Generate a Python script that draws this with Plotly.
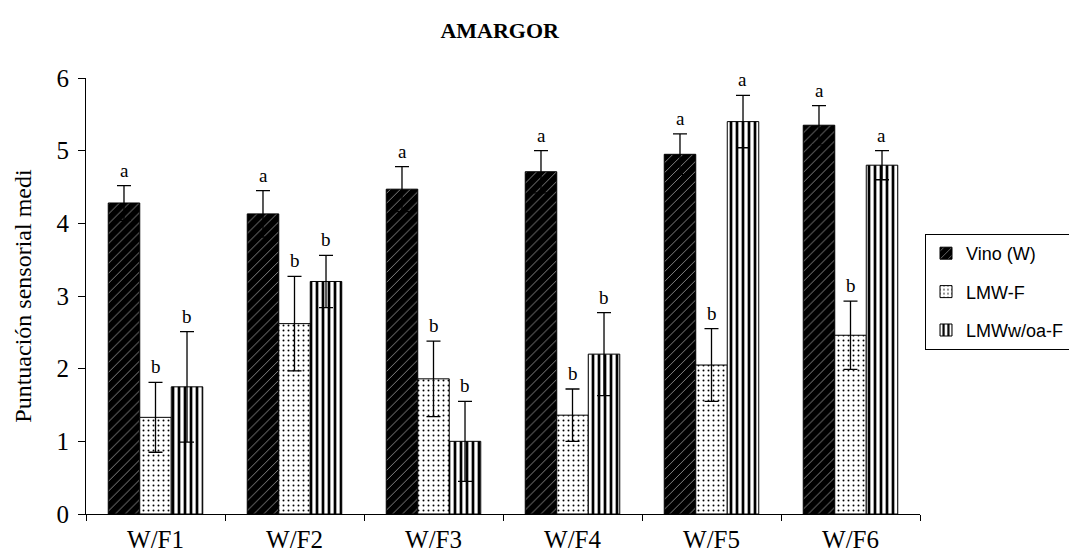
import plotly.graph_objects as go

categories = ["W/F1", "W/F2", "W/F3", "W/F4", "W/F5", "W/F6"]
series_names = ["Vino (W)", "LMW-F", "LMWw/oa-F"]
vino = [4.28, 4.13, 4.47, 4.71, 4.95, 5.35]
vino_err = [0.24, 0.32, 0.31, 0.29, 0.28, 0.27]
lmwf = [1.33, 2.62, 1.86, 1.36, 2.05, 2.46]
lmwf_err = [0.48, 0.65, 0.52, 0.36, 0.50, 0.47]
lmwoa = [1.75, 3.20, 1.00, 2.20, 5.40, 4.80]
lmwoa_err = [0.76, 0.36, 0.55, 0.57, 0.36, 0.20]
letters_vino = ["a", "a", "a", "a", "a", "a"]
letters_lmwf = ["b", "b", "b", "b", "b", "b"]
letters_lmwoa = ["b", "b", "b", "b", "a", "a"]

values = [vino, lmwf, lmwoa]
errors = [vino_err, lmwf_err, lmwoa_err]
letters = [letters_vino, letters_lmwf, letters_lmwoa]
patterns = [
    dict(shape="/", fgcolor="#9a9a9a", bgcolor="black", size=7, solidity=0.12, fillmode="replace"),
    dict(shape=".", fgcolor="black", bgcolor="white", size=5, solidity=0.12, fillmode="replace"),
    dict(shape="|", fgcolor="black", bgcolor="white", size=6, solidity=0.45, fillmode="replace"),
]
base_colors = ["black", "white", "white"]

fig = go.Figure()
for k, (name, v, e, pat, col) in enumerate(zip(series_names, values, errors, patterns, base_colors)):
    fig.add_trace(go.Bar(
        x=categories, y=v, name=name, legendgroup=f"g{k}",
        marker=dict(color=col, pattern=pat, line=dict(color="black", width=1)),
        error_y=dict(type="data", array=e, visible=True, color="black", thickness=1.3, width=7),
    ))

bar_px = 31
for j, (v, e, lt) in enumerate(zip(values, errors, letters)):
    for i, c in enumerate(categories):
        fig.add_annotation(
            x=c, y=v[i] + e[i], text=lt[i], showarrow=False,
            xref="x", yref="y", xshift=(j - 1) * bar_px, yshift=3, yanchor="bottom",
            font=dict(family="Liberation Serif", size=19, color="black"),
        )

fig.update_layout(
    width=1069, height=556,
    margin=dict(l=86, r=149, t=78, b=42, autoexpand=False),
    paper_bgcolor="white", plot_bgcolor="white",
    barmode="group", bargap=0.32, bargroupgap=0,
    title=dict(text="<b>AMARGOR</b>", x=0.496, xanchor="center", y=0.946, yanchor="middle",
               xref="paper",
               font=dict(family="Liberation Serif", size=22, color="black")),
    legend=dict(x=925 / 1069, xanchor="left", y=1 - 234 / 556, yanchor="top",
                xref="container", yref="container",
                bordercolor="black", borderwidth=1, bgcolor="white",
                font=dict(family="Liberation Sans", size=18, color="black"),
                itemwidth=30, tracegroupgap=12),
    showlegend=True,
)
fig.update_xaxes(
    showline=True, linecolor="black", linewidth=1, automargin=False,
    ticks="outside", tickson="boundaries", ticklen=6, tickcolor="black",
    ticklabelstandoff=3,
    tickfont=dict(family="Liberation Serif", size=25, color="black"),
    showgrid=False,
)
fig.update_yaxes(
    range=[0, 6], dtick=1, showline=True, linecolor="black", linewidth=1, automargin=False,
    ticks="outside", ticklen=7, tickcolor="black", showgrid=False, zeroline=False,
    ticklabelstandoff=4,
    tickfont=dict(family="Liberation Serif", size=25, color="black"),
    title=dict(text="Puntuación sensorial medi", standoff=18,
               font=dict(family="Liberation Serif", size=24, color="black")),
)

fig.write_html("out.html")
